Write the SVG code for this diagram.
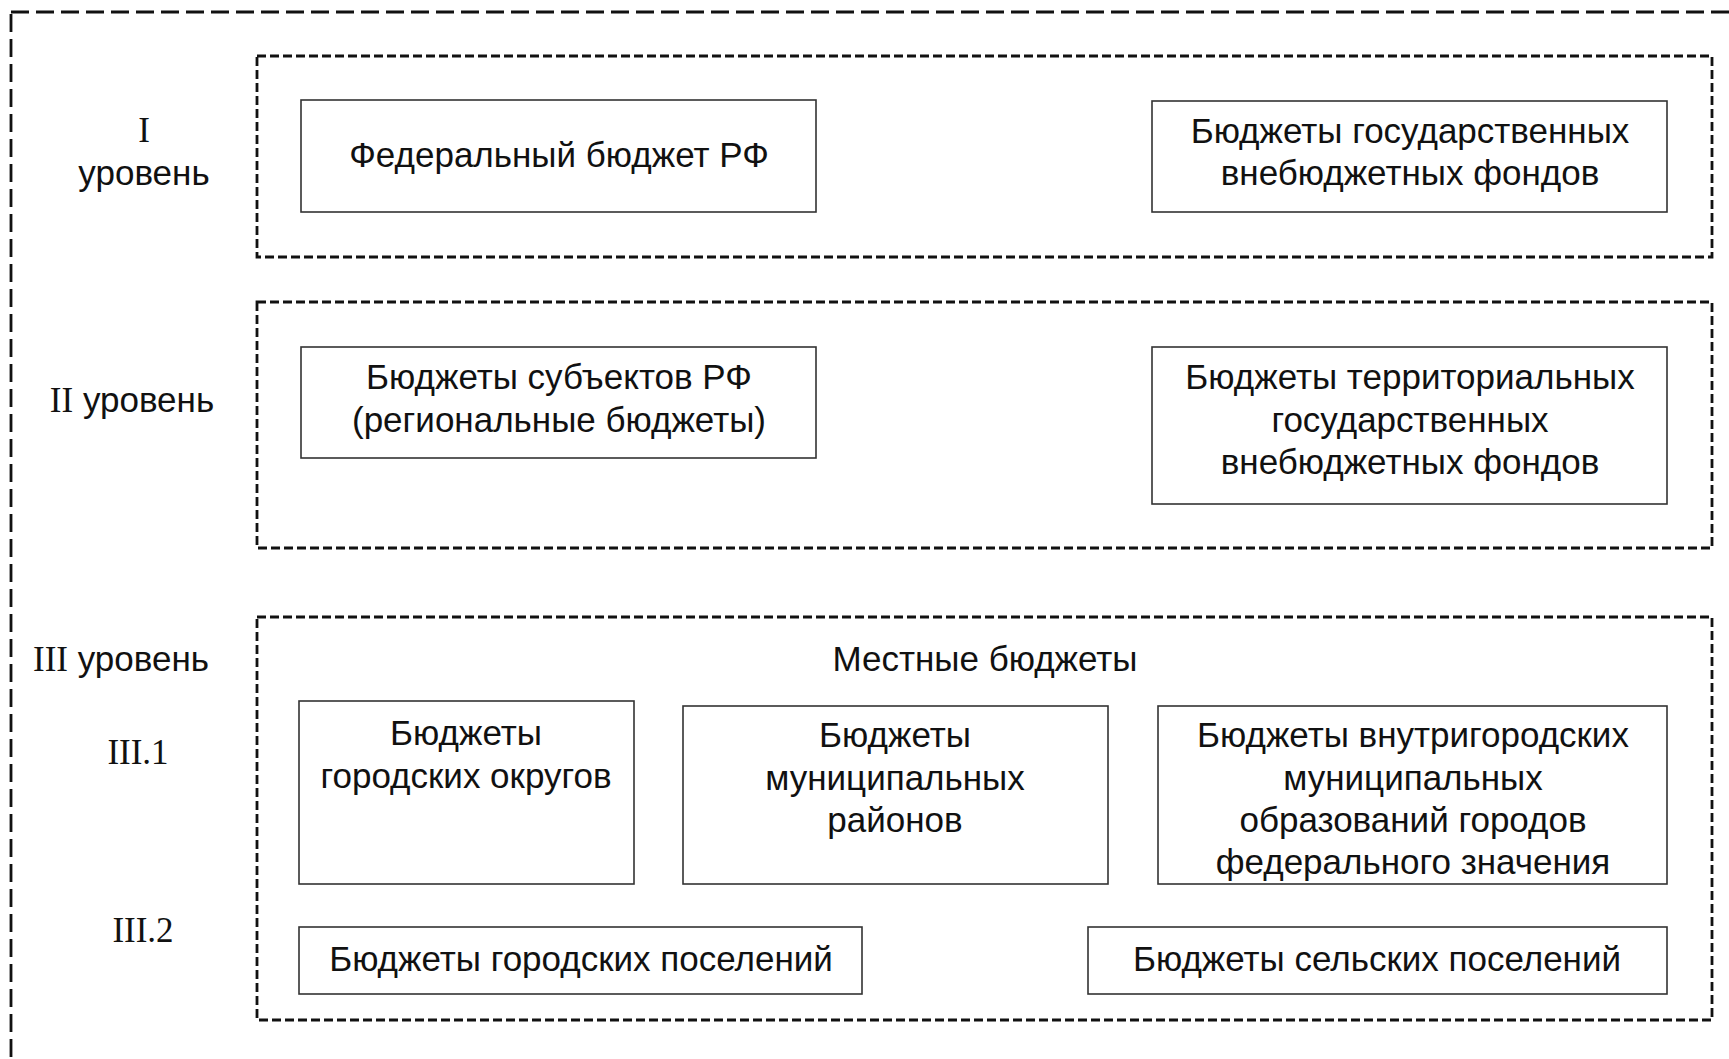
<svg xmlns="http://www.w3.org/2000/svg" width="1729" height="1059" viewBox="0 0 1729 1059">
<style>
.outer{fill:none;stroke:#111;stroke-width:2.8;stroke-dasharray:18 7}
.level{fill:none;stroke:#111;stroke-width:2.8;stroke-dasharray:9 4}
.box{fill:#fff;stroke:#333;stroke-width:1.6}
.t{font-family:"Liberation Sans",Arial,sans-serif;font-size:35px;fill:#111;text-anchor:middle}
.s{font-family:"Liberation Serif","Times New Roman",serif}
</style>
<rect class="outer" x="11" y="12" width="1740" height="1070"/>
<g id="level1">
<rect class="level" x="257" y="56" width="1455" height="201"/>
<text class="t" x="144" y="142"><tspan class="s">I</tspan></text>
<text class="t" x="144" y="185">уровень</text>
</g>
<g id="level2">
<rect class="level" x="257" y="302" width="1455" height="246"/>
<text class="t" x="132" y="412"><tspan class="s">II</tspan> уровень</text>
</g>
<g id="level3">
<rect class="level" x="257" y="617" width="1455" height="403"/>
<text class="t" x="121" y="671"><tspan class="s">III</tspan> уровень</text>
<text class="t" x="985" y="671">Местные бюджеты</text>
<text class="t s" x="138" y="764">III.1</text>
<text class="t s" x="143" y="942">III.2</text>
</g>
<g id="federal">
<rect class="box" x="301" y="100" width="515" height="112"/>
<text class="t" x="559" y="167">Федеральный бюджет РФ</text>
</g>
<g id="funds">
<rect class="box" x="1152" y="101" width="515" height="111"/>
<text class="t" x="1410" y="143">Бюджеты государственных</text>
<text class="t" x="1410" y="185">внебюджетных фондов</text>
</g>
<g id="subjects">
<rect class="box" x="301" y="347" width="515" height="111"/>
<text class="t" x="559" y="389">Бюджеты субъектов РФ</text>
<text class="t" x="559" y="432">(региональные бюджеты)</text>
</g>
<g id="territorial">
<rect class="box" x="1152" y="347" width="515" height="157"/>
<text class="t" x="1410" y="389">Бюджеты территориальных</text>
<text class="t" x="1410" y="432">государственных</text>
<text class="t" x="1410" y="474">внебюджетных фондов</text>
</g>
<g id="city-districts">
<rect class="box" x="299" y="701" width="335" height="183"/>
<text class="t" x="466" y="745">Бюджеты</text>
<text class="t" x="466" y="788">городских округов</text>
</g>
<g id="municipal-districts">
<rect class="box" x="683" y="706" width="425" height="178"/>
<text class="t" x="895" y="747">Бюджеты</text>
<text class="t" x="895" y="790">муниципальных</text>
<text class="t" x="895" y="832">районов</text>
</g>
<g id="inner-city">
<rect class="box" x="1158" y="706" width="509" height="178"/>
<text class="t" x="1413" y="747">Бюджеты внутригородских</text>
<text class="t" x="1413" y="790">муниципальных</text>
<text class="t" x="1413" y="832">образований городов</text>
<text class="t" x="1413" y="874">федерального значения</text>
</g>
<g id="city-settlements">
<rect class="box" x="299" y="927" width="563" height="67"/>
<text class="t" x="581" y="971">Бюджеты городских поселений</text>
</g>
<g id="rural-settlements">
<rect class="box" x="1088" y="927" width="579" height="67"/>
<text class="t" x="1377" y="971">Бюджеты сельских поселений</text>
</g>
<g id="connectors"/>
</svg>
